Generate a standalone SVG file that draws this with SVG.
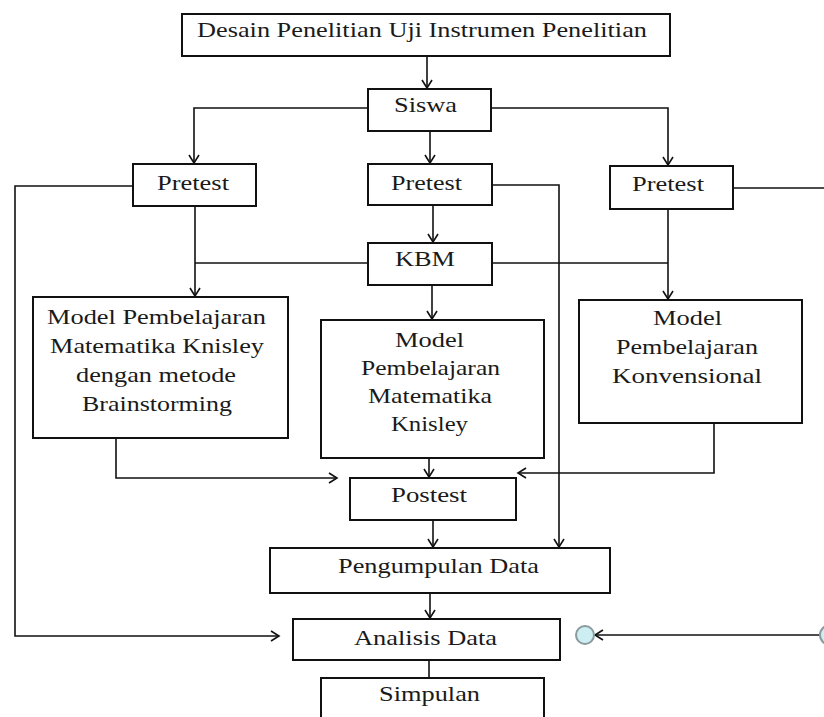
<svg xmlns="http://www.w3.org/2000/svg" width="824" height="717" viewBox="0 0 824 717">
<style>
.box{fill:#fff;stroke:#111;stroke-width:2}
.t{font-family:"Liberation Serif","Times New Roman",serif;font-size:22px;fill:#1a1a1a}
.c{fill:none;stroke:#111;stroke-width:1.6}
.dot{fill:#cdeef3;stroke:#8a9a9e;stroke-width:2}
</style>
<defs>
<marker id="a" markerUnits="userSpaceOnUse" markerWidth="14" markerHeight="14" refX="9" refY="6" orient="auto">
<path d="M1,1 L9,6 L1,11" fill="none" stroke="#111" stroke-width="1.6"/>
</marker>
</defs>
<rect width="824" height="717" fill="#fff"/>
<g id="connectors">
<path class="c" d="M427,56 V88" marker-end="url(#a)"/>
<path class="c" d="M368,108 H194 V163" marker-end="url(#a)"/>
<path class="c" d="M491,108 H668 V165" marker-end="url(#a)"/>
<path class="c" d="M430,131 V163" marker-end="url(#a)"/>
<path class="c" d="M133,186 H15 V636 H279" marker-end="url(#a)"/>
<path class="c" d="M492,185 H559 V547" marker-end="url(#a)"/>
<path class="c" d="M733,188 H824"/>
<path class="c" d="M433,205 V242" marker-end="url(#a)"/>
<path class="c" d="M368,263 H195"/>
<path class="c" d="M195,206 V296" marker-end="url(#a)"/>
<path class="c" d="M492,263 H668"/>
<path class="c" d="M668,209 V299" marker-end="url(#a)"/>
<path class="c" d="M432,285 V319" marker-end="url(#a)"/>
<path class="c" d="M116,438 V478 H337" marker-end="url(#a)"/>
<path class="c" d="M714,423 V473 H518" marker-end="url(#a)"/>
<path class="c" d="M429,458 V477" marker-end="url(#a)"/>
<path class="c" d="M433,520 V547" marker-end="url(#a)"/>
<path class="c" d="M430,593 V618" marker-end="url(#a)"/>
<path class="c" d="M429,660 V678"/>
<path class="c" d="M820,635 H595" marker-end="url(#a)"/>
<circle class="dot" cx="585" cy="635" r="9"/>
<circle class="dot" cx="830" cy="635" r="10"/>
</g>
<g id="n-desain">
<rect class="box" x="182" y="14" width="488" height="42"/>
<text class="t" x="197" y="37" textLength="450" lengthAdjust="spacingAndGlyphs">Desain Penelitian Uji Instrumen Penelitian</text>
</g>
<g id="n-siswa">
<rect class="box" x="368" y="89" width="123" height="42"/>
<text class="t" x="394" y="112" textLength="63" lengthAdjust="spacingAndGlyphs">Siswa</text>
</g>
<g id="n-pretest1">
<rect class="box" x="133" y="164" width="123" height="42"/>
<text class="t" x="157" y="190" textLength="72" lengthAdjust="spacingAndGlyphs">Pretest</text>
</g>
<g id="n-pretest2">
<rect class="box" x="368" y="164" width="124" height="41"/>
<text class="t" x="391" y="190" textLength="71" lengthAdjust="spacingAndGlyphs">Pretest</text>
</g>
<g id="n-pretest3">
<rect class="box" x="610" y="166" width="123" height="43"/>
<text class="t" x="632" y="191" textLength="72" lengthAdjust="spacingAndGlyphs">Pretest</text>
</g>
<g id="n-kbm">
<rect class="box" x="368" y="243" width="124" height="42"/>
<text class="t" x="395" y="266" textLength="60" lengthAdjust="spacingAndGlyphs">KBM</text>
</g>
<g id="n-model1">
<rect class="box" x="33" y="297" width="255" height="141"/>
<text class="t" x="47" y="324" textLength="219" lengthAdjust="spacingAndGlyphs">Model Pembelajaran</text>
<text class="t" x="50" y="353" textLength="214" lengthAdjust="spacingAndGlyphs">Matematika Knisley</text>
<text class="t" x="76" y="382" textLength="160" lengthAdjust="spacingAndGlyphs">dengan metode</text>
<text class="t" x="82" y="411" textLength="150" lengthAdjust="spacingAndGlyphs">Brainstorming</text>
</g>
<g id="n-model2">
<rect class="box" x="321" y="320" width="223" height="138"/>
<text class="t" x="395" y="347" textLength="69" lengthAdjust="spacingAndGlyphs">Model</text>
<text class="t" x="361" y="375" textLength="139" lengthAdjust="spacingAndGlyphs">Pembelajaran</text>
<text class="t" x="368" y="403" textLength="124" lengthAdjust="spacingAndGlyphs">Matematika</text>
<text class="t" x="391" y="431" textLength="77" lengthAdjust="spacingAndGlyphs">Knisley</text>
</g>
<g id="n-model3">
<rect class="box" x="579" y="300" width="223" height="123"/>
<text class="t" x="653" y="325" textLength="69" lengthAdjust="spacingAndGlyphs">Model</text>
<text class="t" x="616" y="354" textLength="142" lengthAdjust="spacingAndGlyphs">Pembelajaran</text>
<text class="t" x="612" y="383" textLength="150" lengthAdjust="spacingAndGlyphs">Konvensional</text>
</g>
<g id="n-postest">
<rect class="box" x="350" y="478" width="166" height="42"/>
<text class="t" x="391" y="502" textLength="76" lengthAdjust="spacingAndGlyphs">Postest</text>
</g>
<g id="n-pengumpulan">
<rect class="box" x="270" y="548" width="340" height="45"/>
<text class="t" x="338" y="573" textLength="201" lengthAdjust="spacingAndGlyphs">Pengumpulan Data</text>
</g>
<g id="n-analisis">
<rect class="box" x="293" y="619" width="267" height="41"/>
<text class="t" x="354" y="645" textLength="143" lengthAdjust="spacingAndGlyphs">Analisis Data</text>
</g>
<g id="n-simpulan">
<rect class="box" x="321" y="678" width="223" height="50"/>
<text class="t" x="379" y="701" textLength="101" lengthAdjust="spacingAndGlyphs">Simpulan</text>
</g>
</svg>
